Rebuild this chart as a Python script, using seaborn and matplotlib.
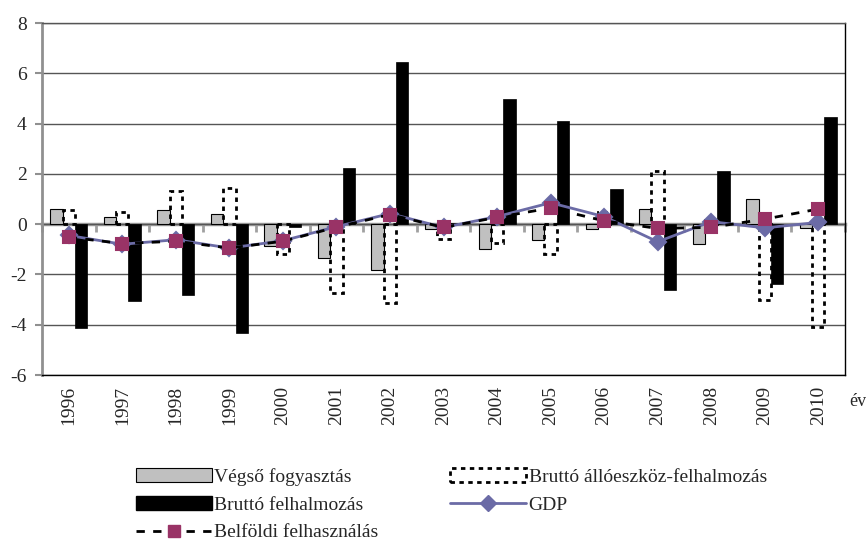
import numpy as np
import pandas as pd
import seaborn as sns
import matplotlib.pyplot as plt
from matplotlib.patches import Patch
from matplotlib.lines import Line2D

years = ['1996', '1997', '1998', '1999', '2000', '2001', '2002', '2003',
         '2004', '2005', '2006', '2007', '2008', '2009', '2010']
vegso = [0.59, 0.29, 0.58, 0.40, -0.86, -1.36, -1.84, -0.20, -1.00, -0.65,
         -0.20, 0.60, -0.77, 1.00, -0.15]
allo = [0.58, 0.49, 1.33, 1.42, -1.17, -2.75, -3.15, -0.60, -0.75, -1.18,
        0.50, 2.13, 0.15, -3.00, -4.10]
felh = [-4.13, -3.05, -2.83, -4.33, -0.10, 2.25, 6.45, 0.05, 4.97, 4.10,
        1.40, -2.60, 2.10, -2.40, 4.28]
gdp = [-0.45, -0.80, -0.62, -0.95, -0.66, -0.10, 0.42, -0.13, 0.30, 0.85,
       0.30, -0.70, 0.10, -0.15, 0.07]
belfold = [-0.52, -0.77, -0.68, -0.95, -0.68, -0.12, 0.38, -0.13, 0.27, 0.64,
           0.13, -0.17, -0.13, 0.20, 0.60]

names = ['Végső fogyasztás', 'Bruttó állóeszköz-felhalmozás', 'Bruttó felhalmozás']

df = pd.DataFrame({
    'year': years * 3,
    'value': vegso + allo + felh,
    'series': [names[0]] * 15 + [names[1]] * 15 + [names[2]] * 15,
})

sns.set_style('white')
plt.rcParams['font.family'] = ['Liberation Serif', 'DejaVu Serif']
plt.rcParams['axes.unicode_minus'] = False

fig = plt.figure(figsize=(8.66, 5.42), dpi=100)
ax = fig.add_axes([42 / 866, 1 - 375 / 542, 803 / 866, 352 / 542])

sns.barplot(data=df, x='year', y='value', hue='series', hue_order=names,
            palette=['#C0C0C0', 'white', 'black'], width=0.69, legend=False,
            ax=ax, zorder=3)

gray_c, allo_c, felh_c = ax.containers
for b in gray_c:
    b.set_edgecolor('black')
    b.set_linewidth(0.8)
for b in allo_c:
    b.set_facecolor('none')
    b.set_edgecolor('black')
    b.set_linestyle((0, (1.6, 1.6)))
    b.set_linewidth(2)
for b in felh_c:
    b.set_edgecolor('black')
    b.set_linewidth(0.5)

sns.pointplot(x=years, y=gdp, color='#6B6BA6', markers='D', linestyles='-',
              errorbar=None, markersize=8, linewidth=2, ax=ax)
ax.lines[-1].set_zorder(5)
sns.pointplot(x=years, y=belfold, color='black', markers='s', linestyles='--',
              errorbar=None, markersize=8, linewidth=2, ax=ax)
ln = ax.lines[-1]
ln.set_zorder(6)
ln.set_markerfacecolor('#993366')
ln.set_markeredgecolor('#993366')
ln.set_dashes((3, 3))

ax.set_ylim(-6, 8)
ax.set_xlim(-0.5, 14.5)
ax.set_yticks(np.arange(-6, 9, 2))
ax.yaxis.grid(True, color='#555555', linewidth=1, zorder=0)
ax.set_axisbelow(True)
ax.set_xlabel('')
ax.set_ylabel('')
ax.tick_params(axis='y', labelsize=14, length=5, width=1.5, color='#909090',
               direction='out', left=True, pad=6)
ax.tick_params(axis='x', labelsize=14, length=0, rotation=90, pad=8)

ax.spines['left'].set_color('#909090')
ax.spines['left'].set_linewidth(2)
ax.spines['bottom'].set_color('black')
ax.spines['right'].set_color('black')
ax.spines['top'].set_color('#555555')
for s in ['bottom', 'right', 'top']:
    ax.spines[s].set_linewidth(1)

# category axis at zero with ticks between categories
secax = ax.secondary_xaxis(6 / 14)
secax.set_xticks(np.arange(-0.5, 15, 1), labels=[''] * 16)
secax.tick_params(length=6, width=2, color='#A0A0A0', direction='out')
secax.spines['bottom'].set_color('#A0A0A0')
secax.spines['bottom'].set_linewidth(2.5)

fig.text(849 / 866, 1 - 402 / 542, 'év', fontsize=13, va='center', ha='left')

handles = [
    Patch(facecolor='#C0C0C0', edgecolor='black', linewidth=0.8),
    Patch(facecolor='black', edgecolor='black'),
    Line2D([], [], color='black', linestyle=(0, (3, 3)), linewidth=2,
           marker='s', markersize=8, markerfacecolor='#993366',
           markeredgecolor='#993366'),
    Patch(facecolor='none', edgecolor='black', linestyle=(0, (1.6, 1.6)),
          linewidth=2),
    Line2D([], [], color='#6B6BA6', linewidth=2, marker='D', markersize=8),
]
labels = [names[0], names[2], 'Belföldi felhasználás', names[1], 'GDP']
fig.legend(handles, labels, ncol=2, loc='upper left',
           bbox_to_anchor=(136 / 866, 1 - 468 / 542), frameon=False,
           fontsize=14, handlelength=3.9, handletextpad=0.12,
           columnspacing=3.7, labelspacing=0.52, borderaxespad=0,
           borderpad=0)

fig.savefig('out.png', dpi=100)
